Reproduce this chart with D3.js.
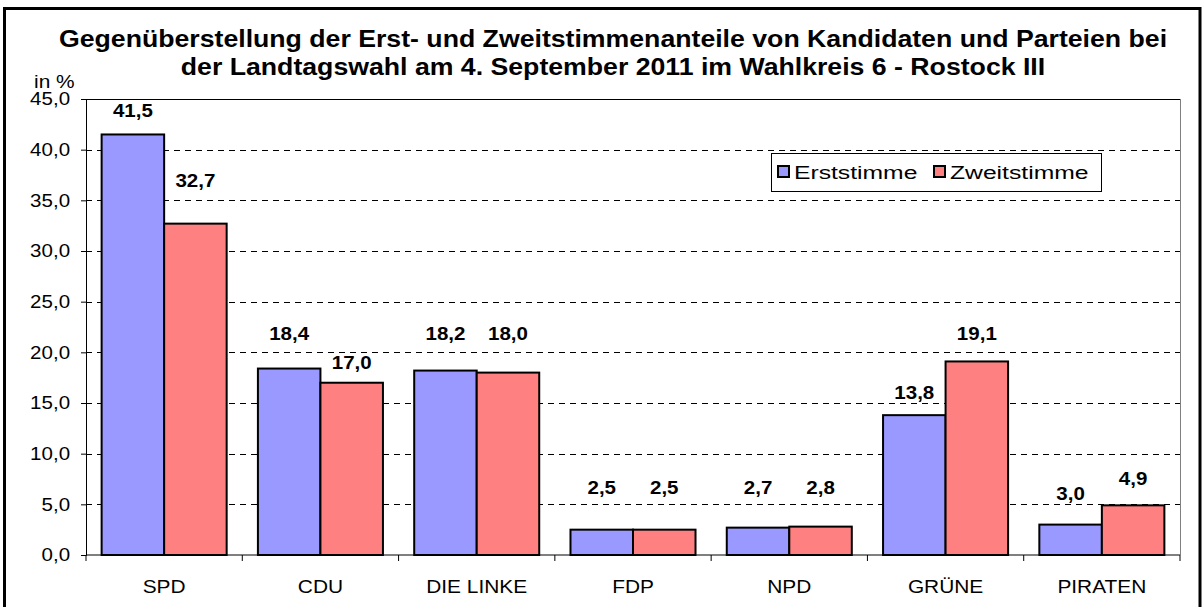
<!DOCTYPE html>
<html>
<head>
<meta charset="utf-8">
<script src="https://cdn.jsdelivr.net/npm/d3@7"></script>
<style>
  body { margin: 0; background: #fff; }
  text { font-family: "Liberation Sans", Arial, sans-serif; fill: #000; }
</style>
</head>
<body>
<svg id="chart"></svg>
<script>
// Data
var parties = ["SPD", "CDU", "DIE LINKE", "FDP", "NPD", "GRÜNE", "PIRATEN"];
var seriesNames = ["Erststimme", "Zweitstimme"];
var erststimme = [41.5, 18.4, 18.2, 2.5, 2.7, 13.8, 3.0];
var zweitstimme = [32.7, 17.0, 18.0, 2.5, 2.8, 19.1, 4.9];
var yTicks = [0, 5, 10, 15, 20, 25, 30, 35, 40, 45];

// label lift above bar top (px), Excel spread them out a bit
var liftE = [17, 29, 31, 36, 34, 16, 25];
var liftZ = [37, 14, 33, 36, 33, 21, 20];

var colors = ["#9999FF", "#FF8080"];

var width = 1204, height = 607;
var plot = { left: 86, right: 1180, top: 99, bottom: 555 };

// the original text is drawn a little wider than Arial, stretch it horizontally
function stretch(sel, sx) {
  sel.each(function() {
    var t = d3.select(this);
    var tx = +t.attr("x") || 0, ty = +t.attr("y") || 0;
    t.attr("transform", "translate(" + tx + "," + ty + ") scale(" + sx + ",1)")
      .attr("x", 0).attr("y", 0);
  });
}

var fmt = function(d) { return d3.format(".1f")(d).replace(".", ","); };

var svg = d3.select("#chart")
  .attr("width", width)
  .attr("height", height);

// outer frame
svg.append("rect")
  .attr("x", 4.5).attr("y", 8.5)
  .attr("width", 1195.5).attr("height", 620)
  .attr("fill", "none")
  .attr("stroke", "#000")
  .attr("stroke-width", 3);

// title
var titleLines = [
  "Gegenüberstellung der Erst- und Zweitstimmenanteile von Kandidaten und Parteien bei",
  "der Landtagswahl am 4. September 2011 im Wahlkreis 6 - Rostock III"
];
svg.selectAll(".title")
  .data(titleLines)
  .enter().append("text")
  .attr("class", "title")
  .attr("x", 613)
  .attr("y", function(d, i) { return 47 + i * 28; })
  .attr("text-anchor", "middle")
  .style("font-weight", "bold")
  .style("font-size", "23px")
  .text(function(d) { return d; })
  .call(stretch, 1.16);

// scales
var x = d3.scaleBand()
  .domain(parties)
  .range([plot.left, plot.right])
  .padding(0);

var x1 = d3.scaleBand()
  .domain(seriesNames)
  .range([0, x.bandwidth()])
  .paddingInner(0)
  .paddingOuter(0.25);

var y = d3.scaleLinear()
  .domain([0, 45])
  .range([plot.bottom, plot.top]);

// gridlines
svg.append("g")
  .selectAll("line")
  .data(yTicks.filter(function(d) { return d > 0 && d < 45; }))
  .enter().append("line")
  .attr("x1", plot.left).attr("x2", plot.right)
  .attr("y1", function(d) { return Math.round(y(d)) + 0.5; })
  .attr("y2", function(d) { return Math.round(y(d)) + 0.5; })
  .attr("stroke", "#000")
  .attr("stroke-dasharray", "6,5");

// plot border top + right
svg.append("line")
  .attr("x1", plot.left).attr("x2", plot.right)
  .attr("y1", plot.top + 0.5).attr("y2", plot.top + 0.5)
  .attr("stroke", "#000");
svg.append("line")
  .attr("x1", plot.right + 0.5).attr("x2", plot.right + 0.5)
  .attr("y1", plot.top).attr("y2", plot.bottom)
  .attr("stroke", "#808080");

// bars
var rows = parties.map(function(p, i) {
  return { party: p, values: [
    { s: seriesNames[0], v: erststimme[i], lift: liftE[i], c: colors[0] },
    { s: seriesNames[1], v: zweitstimme[i], lift: liftZ[i], c: colors[1] }
  ] };
});

var groups = svg.selectAll(".grp")
  .data(rows)
  .enter().append("g")
  .attr("class", "grp")
  .attr("transform", function(d) { return "translate(" + x(d.party) + ",0)"; });

groups.selectAll("rect")
  .data(function(d) { return d.values; })
  .enter().append("rect")
  .attr("x", function(d) { return x1(d.s); })
  .attr("y", function(d) { return y(d.v); })
  .attr("width", x1.bandwidth())
  .attr("height", function(d) { return y(0) - y(d.v); })
  .attr("fill", function(d) { return d.c; })
  .attr("stroke", "#000")
  .attr("stroke-width", 2);

groups.selectAll(".val")
  .data(function(d) { return d.values; })
  .enter().append("text")
  .attr("class", "val")
  .attr("x", function(d) { return x1(d.s) + x1.bandwidth() / 2; })
  .attr("y", function(d) { return y(d.v) - d.lift; })
  .attr("text-anchor", "middle")
  .style("font-weight", "bold")
  .style("font-size", "18px")
  .text(function(d) { return fmt(d.v); })
  .call(stretch, 1.14);

// y axis
var yAxis = svg.append("g")
  .attr("transform", "translate(" + plot.left + ",0)")
  .call(d3.axisLeft(y)
    .tickValues(yTicks)
    .tickSize(5)
    .tickPadding(9)
    .tickFormat(fmt));
yAxis.selectAll("text")
  .style("font-size", "18px")
  .style("font-family", '"Liberation Sans", Arial, sans-serif')
  .attr("fill", "#000")
  .attr("transform", "scale(1.14,1)");
yAxis.selectAll("line").attr("stroke", "#000");
yAxis.select(".domain").attr("stroke", "#000");

// x axis with tick marks between categories
var xAxis = svg.append("g")
  .attr("transform", "translate(0," + plot.bottom + ")");
xAxis.append("line")
  .attr("x1", plot.left).attr("x2", plot.right)
  .attr("stroke", "#000");
xAxis.selectAll(".tk")
  .data(parties.concat(["end"]))
  .enter().append("line")
  .attr("class", "tk")
  .attr("x1", function(d) { return d === "end" ? plot.right : x(d); })
  .attr("x2", function(d) { return d === "end" ? plot.right : x(d); })
  .attr("y1", 0).attr("y2", 6)
  .attr("stroke", "#000");
xAxis.selectAll(".lbl")
  .data(parties)
  .enter().append("text")
  .attr("class", "lbl")
  .attr("x", function(d) { return x(d) + x.bandwidth() / 2; })
  .attr("y", 38)
  .attr("text-anchor", "middle")
  .style("font-size", "18px")
  .text(function(d) { return d; })
  .call(stretch, 1.16);

// unit
svg.append("text")
  .attr("x", 34).attr("y", 88)
  .style("font-size", "18px")
  .text("in %")
  .call(stretch, 1.16);

// legend
var legend = svg.append("g").attr("transform", "translate(771,153)");
legend.append("rect")
  .attr("x", 0.5).attr("y", 0.5)
  .attr("width", 330).attr("height", 38)
  .attr("fill", "#fff").attr("stroke", "#000");
var lx = [7, 163];
seriesNames.forEach(function(s, i) {
  legend.append("rect")
    .attr("x", lx[i]).attr("y", 13)
    .attr("width", 11).attr("height", 11)
    .attr("fill", colors[i]).attr("stroke", "#000").attr("stroke-width", 2);
  legend.append("text")
    .attr("x", lx[i] + 16).attr("y", 26)
    .style("font-size", "19px")
    .text(s)
    .call(stretch, 1.3);
});
</script>
</body>
</html>
